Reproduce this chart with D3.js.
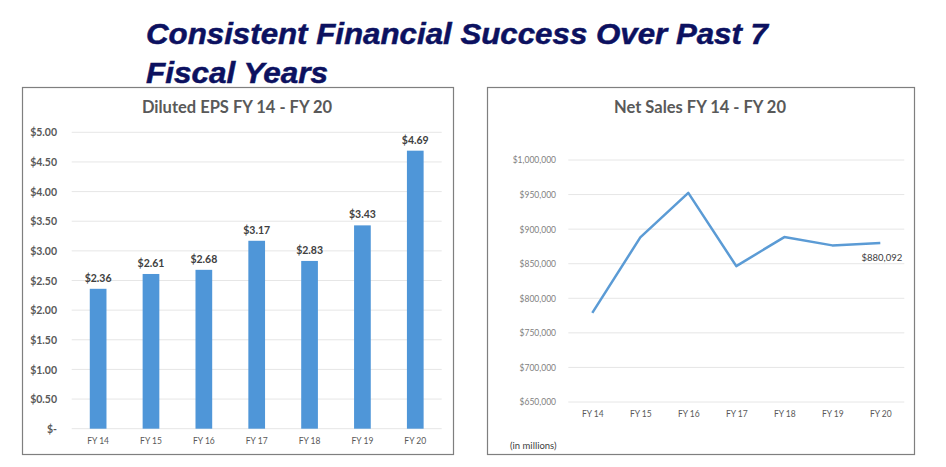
<!DOCTYPE html>
<html>
<head>
<meta charset="utf-8">
<script src="https://cdn.jsdelivr.net/npm/d3@7"></script>
<style>
  html, body { margin: 0; padding: 0; background: #ffffff; }
  svg { display: block; }
</style>
</head>
<body>
<svg id="chart" width="946" height="467"></svg>
<script>
// ---------- DATA ----------
const titleLines = ["Consistent Financial Success Over Past 7", "Fiscal Years"];
const categories = ["FY 14", "FY 15", "FY 16", "FY 17", "FY 18", "FY 19", "FY 20"];
const epsValues = [2.36, 2.61, 2.68, 3.17, 2.83, 3.43, 4.69];
const epsTicks = [0, 0.5, 1.0, 1.5, 2.0, 2.5, 3.0, 3.5, 4.0, 4.5, 5.0];
const salesValues = [779000, 888000, 952500, 846500, 888500, 876500, 880092];
const salesTicks = [650000, 700000, 750000, 800000, 850000, 900000, 950000, 1000000];
const epsTitle = "Diluted EPS FY 14 - FY 20";
const salesTitle = "Net Sales FY 14 - FY 20";
const salesNote = "(in millions)";

// ---------- SETUP ----------
const svg = d3.select("#chart");
const blue = "#4f96d8";
const grid = "#e6e6e6";
const labelFont = "Lato, 'Open Sans', 'DejaVu Sans', sans-serif";

// Main title
svg.selectAll("text.main-title")
  .data(titleLines)
  .join("text")
  .attr("class", "main-title")
  .attr("x", 146)
  .attr("y", (d, i) => 44 + i * 38.5)
  .attr("font-family", "'Liberation Sans', Arial, sans-serif")
  .attr("font-weight", "bold")
  .attr("font-style", "italic")
  .attr("font-size", 30)
  .attr("fill", "#0c1160")
  .attr("stroke", "#0c1160")
  .attr("stroke-width", 0.5)
  .attr("textLength", (d, i) => i === 0 ? 622 : 182)
  .attr("lengthAdjust", "spacingAndGlyphs")
  .text(d => d);

// ---------- LEFT PANEL: EPS bar chart ----------
const L = { x0: 22, y0: 87, x1: 453, y1: 454 };
svg.append("rect")
  .attr("x", L.x0 + 0.5).attr("y", L.y0 + 0.5)
  .attr("width", L.x1 - L.x0).attr("height", L.y1 - L.y0)
  .attr("fill", "#fff").attr("stroke", "#7f7f7f").attr("stroke-width", 1.2);

svg.append("text")
  .attr("x", 237).attr("y", 113)
  .attr("text-anchor", "middle")
  .attr("font-family", labelFont).attr("font-weight", "bold")
  .attr("font-size", 16.5).attr("fill", "#595959")
  .text(epsTitle);

const xE = d3.scaleBand().domain(categories).range([71.7, 441.7]).paddingInner(0.684).paddingOuter(0.342);
const yE = d3.scaleLinear().domain([0, 5]).range([428.7, 132.3]);

const gE = svg.append("g");
gE.selectAll("line.grid")
  .data(epsTicks)
  .join("line")
  .attr("class", "grid")
  .attr("x1", 71.7).attr("x2", 441.7)
  .attr("y1", d => yE(d)).attr("y2", d => yE(d))
  .attr("stroke", grid).attr("stroke-width", 1);

const yAxisE = d3.axisLeft(yE).tickValues(epsTicks).tickSize(0).tickPadding(0)
  .tickFormat(d => d === 0 ? "$-" : "$" + d3.format(".2f")(d));
const yAxE = svg.append("g").attr("transform", "translate(57,0)").call(yAxisE);
yAxE.select(".domain").remove();
yAxE.selectAll("text")
  .attr("font-family", labelFont).attr("font-weight", "bold")
  .attr("font-size", 10.5).attr("fill", "#595959")
  .attr("dy", "0.35em");

gE.selectAll("rect.bar")
  .data(epsValues)
  .join("rect")
  .attr("class", "bar")
  .attr("x", (d, i) => xE(categories[i]))
  .attr("width", xE.bandwidth())
  .attr("y", d => yE(d))
  .attr("height", d => yE(0) - yE(d))
  .attr("fill", blue);

gE.selectAll("text.val")
  .data(epsValues)
  .join("text")
  .attr("class", "val")
  .attr("x", (d, i) => xE(categories[i]) + xE.bandwidth() / 2)
  .attr("y", d => yE(d) - 7)
  .attr("text-anchor", "middle")
  .attr("font-family", labelFont).attr("font-weight", "bold")
  .attr("font-size", 10.5).attr("fill", "#404040")
  .text(d => "$" + d3.format(".2f")(d));

const xAxisE = d3.axisBottom(xE).tickSize(0).tickPadding(0);
const xAxE = svg.append("g").attr("transform", "translate(0,438)").call(xAxisE);
xAxE.select(".domain").remove();
xAxE.selectAll("text")
  .attr("font-family", labelFont).attr("font-size", 8.5).attr("fill", "#595959")
  .attr("dy", "0.71em");

// ---------- RIGHT PANEL: Net sales line chart ----------
const R = { x0: 487, y0: 87, x1: 914, y1: 454 };
svg.append("rect")
  .attr("x", R.x0 + 0.5).attr("y", R.y0 + 0.5)
  .attr("width", R.x1 - R.x0).attr("height", R.y1 - R.y0)
  .attr("fill", "#fff").attr("stroke", "#7f7f7f").attr("stroke-width", 1.2);

svg.append("text")
  .attr("x", 700).attr("y", 113)
  .attr("text-anchor", "middle")
  .attr("font-family", labelFont).attr("font-weight", "bold")
  .attr("font-size", 16.5).attr("fill", "#595959")
  .text(salesTitle);

const xS = d3.scalePoint().domain(categories).range([568.3, 904.3]).padding(0.5);
const yS = d3.scaleLinear().domain([650000, 1000000]).range([402, 160]);

const gS = svg.append("g");
gS.selectAll("line.grid")
  .data(salesTicks)
  .join("line")
  .attr("class", "grid")
  .attr("x1", 568.3).attr("x2", 904.3)
  .attr("y1", d => yS(d)).attr("y2", d => yS(d))
  .attr("stroke", grid).attr("stroke-width", 1);

const yAxisS = d3.axisLeft(yS).tickValues(salesTicks).tickSize(0).tickPadding(0)
  .tickFormat(d => "$" + d3.format(",")(d));
const yAxS = svg.append("g").attr("transform", "translate(556,0)").call(yAxisS);
yAxS.select(".domain").remove();
yAxS.selectAll("text")
  .attr("font-family", labelFont).attr("font-size", 8.5).attr("fill", "#7f7f7f")
  .attr("dy", "0.35em");

const line = d3.line()
  .x((d, i) => xS(categories[i]))
  .y(d => yS(d));
gS.append("path")
  .datum(salesValues)
  .attr("d", line)
  .attr("fill", "none")
  .attr("stroke", "#5b9bd5")
  .attr("stroke-width", 2.5)
  .attr("stroke-linejoin", "round");

const last = salesValues.length - 1;
gS.append("text")
  .attr("x", xS(categories[last]) + 22)
  .attr("y", 261)
  .attr("text-anchor", "end")
  .attr("font-family", labelFont).attr("font-size", 9.5).attr("fill", "#404040")
  .text("$" + d3.format(",")(salesValues[last]));

const xAxisS = d3.axisBottom(xS).tickSize(0).tickPadding(0);
const xAxS = svg.append("g").attr("transform", "translate(0,411)").call(xAxisS);
xAxS.select(".domain").remove();
xAxS.selectAll("text")
  .attr("font-family", labelFont).attr("font-size", 8.5).attr("fill", "#595959")
  .attr("dy", "0.71em");

svg.append("text")
  .attr("x", 510).attr("y", 449)
  .attr("font-family", labelFont).attr("font-size", 9.5).attr("fill", "#404040")
  .text(salesNote);
</script>
</body>
</html>
